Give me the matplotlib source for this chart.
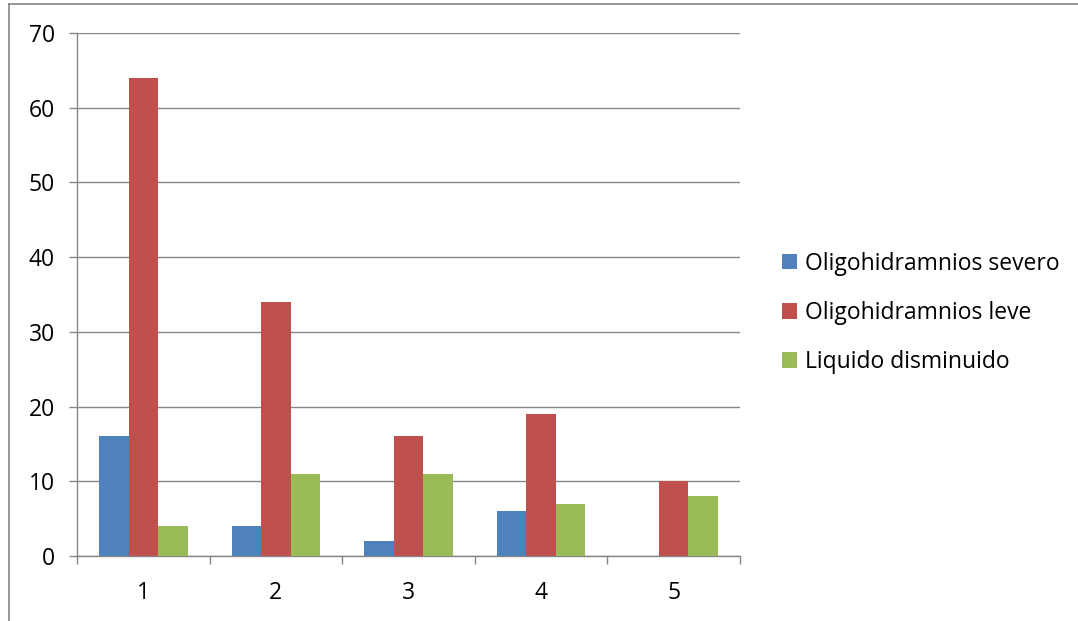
import numpy as np
import matplotlib.pyplot as plt
from matplotlib.lines import Line2D

categories = ['1', '2', '3', '4', '5']
severo = [16, 4, 2, 6, 0]
leve = [64, 34, 16, 19, 10]
disminuido = [4, 11, 11, 7, 8]
series_names = ['Oligohidramnios severo', 'Oligohidramnios leve', 'Liquido disminuido']
colors = ['#4F81BD', '#C0504D', '#9BBB59']
yticks = [0, 10, 20, 30, 40, 50, 60, 70]

plt.rcParams['font.family'] = ['Open Sans', 'DejaVu Sans']
W, H = 1078, 621
fig = plt.figure(figsize=(W/100, H/100), dpi=100)
ax = fig.add_axes([77/W, 1-556/H, (740-77)/W, (556-33)/H])

grid_c = '#868686'
fs = 16.5
x = np.arange(len(categories))
bw = 1/4.5
for k, (vals, name, c) in enumerate(zip([severo, leve, disminuido], series_names, colors)):
    ax.bar(x + (k-1)*bw, vals, width=bw, color=c, label=name, zorder=3)

ax.set_xlim(-0.5, len(categories)-0.5)
ax.set_ylim(0, 70)
ax.set_yticks(yticks)
ax.set_yticklabels([str(v) for v in yticks])
ax.set_xticks(x)
ax.set_xticklabels(categories)
ax.set_xticks(np.arange(-0.5, len(categories)), minor=True)
ax.yaxis.grid(True, color=grid_c, linewidth=1.0, zorder=0)
ax.set_axisbelow(True)

for s in ['top', 'right']:
    ax.spines[s].set_visible(False)
for s in ['left', 'bottom']:
    ax.spines[s].set_color(grid_c)
    ax.spines[s].set_linewidth(1.0)

ax.tick_params(axis='y', direction='out', length=6, width=1, color=grid_c, pad=10, labelsize=fs)
ax.tick_params(axis='x', which='major', length=0, pad=18, labelsize=fs)
ax.tick_params(axis='x', which='minor', direction='out', length=6, width=1, color=grid_c)

leg = fig.legend(loc='center left', bbox_to_anchor=(782/W, 1-313/H), frameon=False,
                 fontsize=fs, handlelength=0.66, handleheight=0.66, handletextpad=0.33,
                 labelspacing=1.1, borderpad=0, borderaxespad=0)

# outer chart border (left and top edges)
fig.add_artist(Line2D([8.5/W, 8.5/W], [0, 1-3.5/H], color=grid_c, linewidth=1.2))
fig.add_artist(Line2D([8.5/W, 1], [1-3.5/H, 1-3.5/H], color=grid_c, linewidth=1.2))

fig.savefig('out.png', dpi=100)
